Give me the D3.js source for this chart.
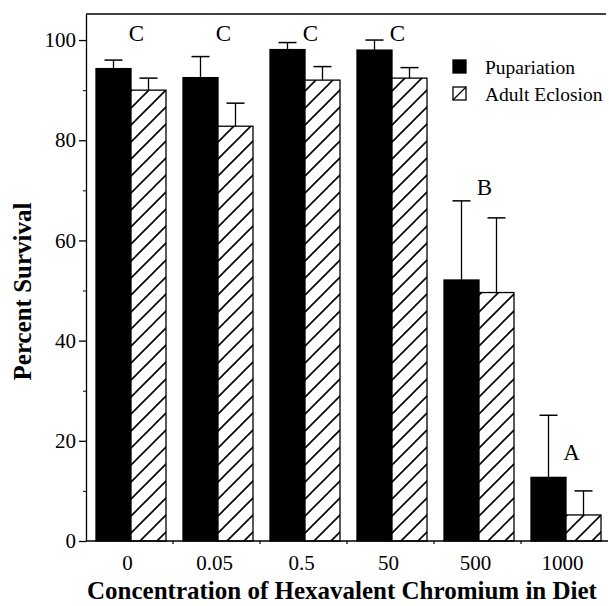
<!DOCTYPE html>
<html><head><meta charset="utf-8">
<script src="https://cdn.jsdelivr.net/npm/d3@7"></script>
<style>
html,body{margin:0;padding:0;background:#fff;}
svg{display:block;font-family:"Liberation Serif","Times New Roman",serif;}
</style></head>
<body>
<svg id="chart" width="609" height="606"></svg>
<script>
const categories = ["0", "0.05", "0.5", "50", "500", "1000"];
const seriesNames = ["Pupariation", "Adult Eclosion"];
const pupariation = [94.3, 92.5, 98.1, 98.0, 52.1, 12.7];
const pupariationErr = [1.7, 4.2, 1.4, 2.0, 15.8, 12.4];
const eclosion = [90.0, 82.8, 92.0, 92.4, 49.6, 5.2];
const eclosionErr = [2.4, 4.6, 2.7, 2.1, 14.9, 4.8];
const groupLetters = ["C", "C", "C", "C", "B", "A"];
const letterLevel = [101.4, 101.4, 101.4, 101.4, 70.7, 17.8];
const yMajorTicks = [0, 20, 40, 60, 80, 100];
const yMinorTicks = [10, 30, 50, 70, 90];
const yTitle = "Percent Survival";
const xTitle = "Concentration of Hexavalent Chromium in Diet";

const svg = d3.select("#chart");
const mLeft = 86, mRight = 608, mTop = 14, mBottom = 541;
const serif = "Liberation Serif, Times New Roman, serif";

const defs = svg.append("defs");
const pat = defs.append("pattern").attr("id","hatch").attr("patternUnits","userSpaceOnUse")
  .attr("width",17).attr("height",17).attr("x",0).attr("y",0);
pat.append("rect").attr("width",17).attr("height",17).attr("fill","#fff");
pat.append("path").attr("d","M-2,19 L19,-2 M-4,4 L4,-4 M13,21 L21,13")
  .attr("stroke","#000").attr("stroke-width",1.6);

const x = d3.scaleBand().domain(categories).range([mLeft, mRight]).paddingInner(0).paddingOuter(0);
const xs = d3.scaleBand().domain(seriesNames).range([10, 80]);
const y = d3.scaleLinear().domain([0, 105.2]).range([mBottom, mTop]);

const rows = categories.map((c,i)=>({c, i, vals:[
  {s:seriesNames[0], v:pupariation[i], e:pupariationErr[i]},
  {s:seriesNames[1], v:eclosion[i], e:eclosionErr[i]}]}));

const g = svg.append("g").selectAll("g").data(rows).join("g")
  .attr("transform", d=>`translate(${x(d.c)},0)`);

// error bars (upward only)
g.selectAll("g.err").data(d=>d.vals).join("g").attr("class","err").each(function(d){
  const cx = xs(d.s) + xs.bandwidth()/2;
  const sel = d3.select(this);
  sel.append("line").attr("x1",cx).attr("x2",cx).attr("y1",y(d.v)).attr("y2",y(d.v+d.e))
    .attr("stroke","#000").attr("stroke-width",1.3);
  sel.append("line").attr("x1",cx-9).attr("x2",cx+9).attr("y1",y(d.v+d.e)).attr("y2",y(d.v+d.e))
    .attr("stroke","#000").attr("stroke-width",1.5);
});

g.selectAll("rect").data(d=>d.vals).join("rect")
  .attr("x", d=>xs(d.s)).attr("width", xs.bandwidth())
  .attr("y", d=>y(d.v)).attr("height", d=>y(0)-y(d.v))
  .attr("fill", (d,i)=> i===0 ? "#000" : "url(#hatch)")
  .attr("stroke","#000").attr("stroke-width",1.3);

// letters
g.append("text").attr("x", x.bandwidth()/2 + 7).attr("y", d=>y(letterLevel[d.i]))
  .attr("dy","0.35em").attr("text-anchor","middle").attr("font-size",23)
  .text(d=>groupLetters[d.i]);

// y axis
const yAxis = svg.append("g").attr("transform",`translate(${mLeft},0)`)
  .call(d3.axisLeft(y).tickValues(yMajorTicks).tickSize(7).tickSizeOuter(0).tickPadding(3).tickFormat(d3.format("d")));
yAxis.attr("font-family",serif).attr("font-size",21);
yAxis.selectAll("text").attr("fill","#000");
yAxis.select(".domain").attr("stroke-width",1.3);
yAxis.selectAll(".tick line").attr("stroke-width",1.3);
svg.append("g").attr("transform",`translate(${mLeft},0)`)
  .call(d3.axisLeft(y).tickValues(yMinorTicks).tickSize(3).tickSizeOuter(0).tickFormat(""))
  .call(s=>s.select(".domain").remove());

// x axis
const xAxis = svg.append("g").attr("transform",`translate(0,${mBottom})`)
  .call(d3.axisBottom(x).tickSize(0).tickSizeOuter(0).tickPadding(14));
xAxis.attr("font-family",serif).attr("font-size",21);
xAxis.selectAll("text").attr("fill","#000").attr("dx",-2);
xAxis.select(".domain").attr("stroke-width",1.3).attr("d",`M${mLeft},0H${mRight}`);
svg.append("g").selectAll("line").data(categories.slice(1)).join("line")
  .attr("x1",d=>x(d)).attr("x2",d=>x(d)).attr("y1",mBottom).attr("y2",mBottom+3)
  .attr("stroke","#000").attr("stroke-width",1.2);

// top border
svg.append("line").attr("x1",mLeft).attr("x2",606).attr("y1",mTop).attr("y2",mTop)
  .attr("stroke","#000").attr("stroke-width",1.4);

// titles
svg.append("text").attr("transform",`translate(31,291.5) rotate(-90)`)
  .attr("text-anchor","middle").attr("font-weight","bold").attr("font-size",25).text(yTitle);
svg.append("text").attr("x",342).attr("y",599).attr("text-anchor","middle")
  .attr("font-weight","bold").attr("font-size",25).text(xTitle);

// legend
const leg = svg.append("g");
seriesNames.forEach((s,i)=>{
  const ly = 60 + i*27;
  leg.append("rect").attr("x",453).attr("y",ly).attr("width",13).attr("height",13)
    .attr("fill", i===0?"#000":"#fff").attr("stroke","#000").attr("stroke-width",1.3);
  if(i===1) leg.append("line").attr("x1",453).attr("y1",ly+13).attr("x2",466).attr("y2",ly)
    .attr("stroke","#000").attr("stroke-width",1.3);
  leg.append("text").attr("x",485).attr("y",ly+7).attr("dy","0.35em").attr("font-size",19.5).text(s);
});
</script>
</body></html>
